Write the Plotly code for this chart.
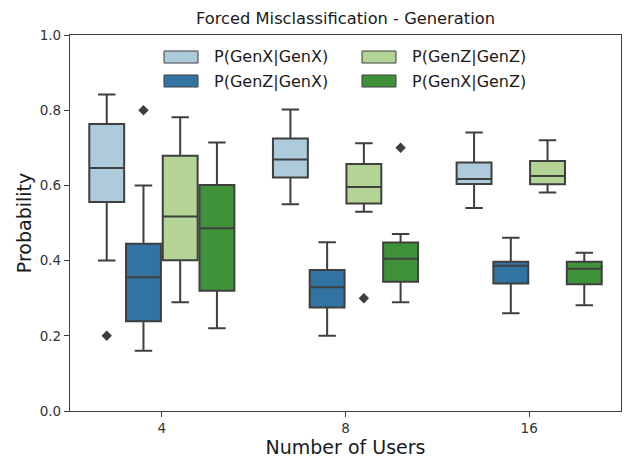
import plotly.graph_objects as go

# ---- data ----
categories = ["4", "8", "16"]
series_names = ["P(GenX|GenX)", "P(GenZ|GenX)", "P(GenZ|GenZ)", "P(GenX|GenZ)"]

genx_genx_low = [0.40, 0.55, 0.54]
genx_genx_q1 = [0.556, 0.621, 0.604]
genx_genx_med = [0.646, 0.669, 0.617]
genx_genx_q3 = [0.763, 0.725, 0.661]
genx_genx_high = [0.842, 0.802, 0.741]

genz_genx_low = [0.16, 0.20, 0.26]
genz_genx_q1 = [0.239, 0.275, 0.339]
genz_genx_med = [0.356, 0.329, 0.386]
genz_genx_q3 = [0.445, 0.375, 0.397]
genz_genx_high = [0.60, 0.449, 0.461]

genz_genz_low = [0.289, 0.530, 0.581]
genz_genz_q1 = [0.401, 0.552, 0.603]
genz_genz_med = [0.517, 0.596, 0.625]
genz_genz_q3 = [0.679, 0.657, 0.665]
genz_genz_high = [0.781, 0.712, 0.720]

genx_genz_low = [0.220, 0.289, 0.281]
genx_genz_q1 = [0.320, 0.344, 0.337]
genx_genz_med = [0.486, 0.405, 0.378]
genx_genz_q3 = [0.601, 0.448, 0.397]
genx_genz_high = [0.714, 0.471, 0.421]

# outliers: (category index, value)
genx_genx_out = [(0, 0.20)]
genz_genx_out = [(0, 0.80)]
genz_genz_out = [(1, 0.30)]
genx_genz_out = [(1, 0.70)]

y_ticks = [0.0, 0.2, 0.4, 0.6, 0.8, 1.0]

stats = [
    (genx_genx_low, genx_genx_q1, genx_genx_med, genx_genx_q3, genx_genx_high, genx_genx_out),
    (genz_genx_low, genz_genx_q1, genz_genx_med, genz_genx_q3, genz_genx_high, genz_genx_out),
    (genz_genz_low, genz_genz_q1, genz_genz_med, genz_genz_q3, genz_genz_high, genz_genz_out),
    (genx_genz_low, genx_genz_q1, genx_genz_med, genx_genz_q3, genx_genz_high, genx_genz_out),
]

colors = ["#aecbdb", "#3274a1", "#b3d495", "#40923a"]
line_color = "#3f3f3f"
font_family = "DejaVu Sans"

n_hue = len(series_names)
group_width = 0.8
hue_width = group_width / n_hue

fig = go.Figure()
for i, (name, st) in enumerate(zip(series_names, stats)):
    low, q1, med, q3, high, outs = st
    offset = (i - (n_hue - 1) / 2) * hue_width
    xs = [k + offset for k in range(len(categories))]
    fig.add_trace(go.Box(
        x=xs, q1=q1, median=med, q3=q3, lowerfence=low, upperfence=high,
        width=hue_width * 0.95, whiskerwidth=0.5,
        fillcolor=colors[i], line=dict(color=line_color, width=2),
        name=name, showlegend=False, boxpoints=False, hoverinfo="skip",
    ))
    if outs:
        fig.add_trace(go.Scatter(
            x=[c + offset for c, _ in outs], y=[v for _, v in outs],
            mode="markers", showlegend=False, hoverinfo="skip",
            marker=dict(symbol="diamond", size=8, color=line_color),
        ))

# ---- layout ----
W, H = 624, 459
L, R, T, B = 70, 3, 35, 48
pw, ph = W - L - R, H - T - B

fig.update_layout(
    width=W, height=H,
    margin=dict(l=L, r=R, t=T, b=B, autoexpand=False),
    paper_bgcolor="white", plot_bgcolor="white",
    boxmode="overlay",
    font=dict(family=font_family, color="#262626"),
    title=dict(text="Forced Misclassification - Generation", x=(L + pw / 2) / W,
               xanchor="center", y=1 - 18 / H, yanchor="middle",
               font=dict(size=16.3, color="#1a1a1a")),
)
fig.update_xaxes(
    range=[-0.5, len(categories) - 0.5],
    tickvals=list(range(len(categories))), ticktext=categories,
    showline=True, linecolor="#3f3f3f", linewidth=1.3, mirror=True,
    ticks="outside", ticklen=5, tickcolor="#3f3f3f", showgrid=False, zeroline=False,
    tickfont=dict(size=13.5, color="#333333"), automargin=False,
    title=dict(text="Number of Users", font=dict(size=19, color="#1a1a1a"), standoff=4),
)
fig.update_yaxes(
    range=[0, 1.0], tickvals=y_ticks,
    ticktext=[f"{v:.1f}" for v in y_ticks],
    showline=True, linecolor="#3f3f3f", linewidth=1.3, mirror=True,
    ticks="outside", ticklen=5, tickcolor="#3f3f3f", showgrid=False, zeroline=False,
    tickfont=dict(size=13.5, color="#333333"), automargin=False,
    title=dict(text="Probability", font=dict(size=19, color="#1a1a1a"), standoff=3),
)

# ---- legend (matplotlib style, 2 columns) ----
legend_cols = [[0, 1], [2, 3]]
col_px = [164, 362]
row_py = [57, 81]
patch_w, patch_h, text_gap = 34, 12, 14
for c, idxs in enumerate(legend_cols):
    for r, idx in enumerate(idxs):
        x0 = (col_px[c] - L) / pw
        x1 = (col_px[c] + patch_w - L) / pw
        yc = (H - B - row_py[r]) / ph
        fig.add_shape(type="rect", xref="paper", yref="paper",
                      x0=x0, x1=x1, y0=yc - patch_h / 2 / ph, y1=yc + patch_h / 2 / ph,
                      fillcolor=colors[idx], line=dict(color=line_color, width=1))
        fig.add_annotation(xref="paper", yref="paper",
                           x=(col_px[c] + patch_w + text_gap - L) / pw, y=yc,
                           xanchor="left", yanchor="middle", showarrow=False,
                           text=series_names[idx],
                           font=dict(size=16, color="#1a1a1a", family=font_family))

fig.write_html("out.html", config={"displayModeBar": False},
               post_script="document.body.style.margin='0';")
